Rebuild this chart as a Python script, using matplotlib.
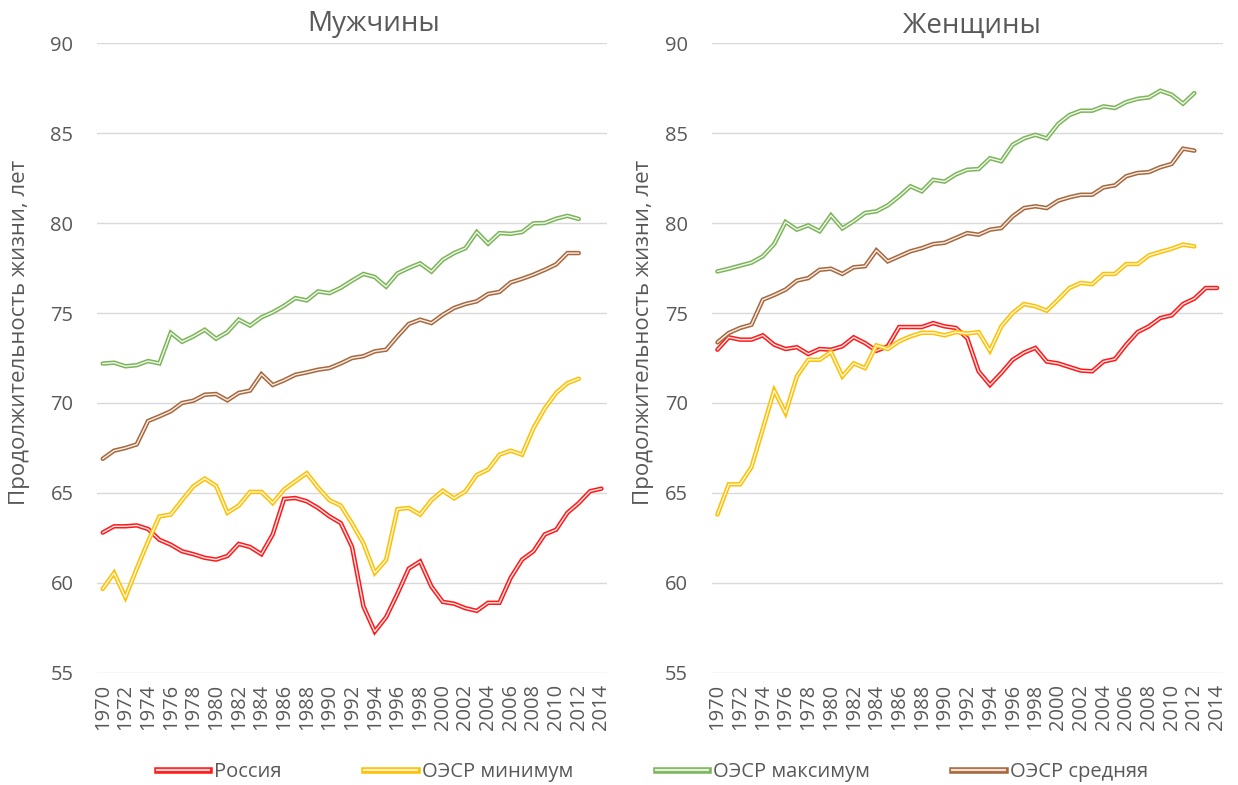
import matplotlib
matplotlib.use("Agg")
import matplotlib.pyplot as plt
from matplotlib.lines import Line2D
from matplotlib.legend_handler import HandlerTuple

plt.rcParams["font.family"] = ["Open Sans", "DejaVu Sans"]

# ---------------------------------------------------------------------------
# Data (life expectancy, years)
# ---------------------------------------------------------------------------
years_long = list(range(1970, 2015))   # Russia series run to 2014
years_short = list(range(1970, 2013))  # OECD series run to 2012
tick_years = list(range(1970, 2015, 2))

male_russia = [
    62.8, 63.15, 63.15, 63.2, 63.0, 62.4, 62.13, 61.76, 61.6, 61.4,
    61.3, 61.5, 62.17, 62.0, 61.6, 62.7, 64.67, 64.72, 64.54, 64.17,
    63.7, 63.33, 62.0, 58.7, 57.3, 58.1, 59.4, 60.8, 61.2, 59.8,
    58.95, 58.85, 58.6, 58.45, 58.9, 58.9, 60.3, 61.3, 61.76, 62.7,
    62.96, 63.9, 64.44, 65.1, 65.24,
]
male_min = [
    59.67, 60.56, 59.2, 60.8, 62.3, 63.7, 63.8, 64.6, 65.37, 65.8,
    65.4, 63.9, 64.3, 65.06, 65.06, 64.44, 65.2, 65.65, 66.1, 65.3,
    64.6, 64.3, 63.3, 62.2, 60.56, 61.28, 64.1, 64.17, 63.8, 64.6,
    65.13, 64.7, 65.1, 66.0, 66.3, 67.13, 67.35, 67.13, 68.6, 69.7,
    70.56, 71.1, 71.35,
]
male_max = [
    72.19, 72.24, 72.04, 72.1, 72.33, 72.2, 73.9, 73.4, 73.7, 74.07,
    73.57, 73.94, 74.63, 74.3, 74.76, 75.04, 75.4, 75.83, 75.7, 76.2,
    76.1, 76.4, 76.8, 77.17, 77.0, 76.46, 77.2, 77.5, 77.76, 77.3,
    77.96, 78.33, 78.6, 79.5, 78.85, 79.44, 79.4, 79.5, 79.98, 80.0,
    80.24, 80.4, 80.22,
]
male_avg = [
    66.9, 67.35, 67.5, 67.7, 69.0, 69.26, 69.54, 70.0, 70.13, 70.46,
    70.5, 70.15, 70.56, 70.69, 71.6, 71.0, 71.26, 71.57, 71.7, 71.85,
    71.94, 72.2, 72.5, 72.6, 72.87, 72.96, 73.7, 74.39, 74.63, 74.44,
    74.9, 75.28, 75.5, 75.65, 76.06, 76.17, 76.7, 76.9, 77.13, 77.4,
    77.7, 78.33, 78.33,
]

female_russia = [
    72.96, 73.65, 73.52, 73.52, 73.76, 73.24, 73.0, 73.1, 72.72, 73.0,
    72.96, 73.15, 73.65, 73.33, 72.9, 73.15, 74.22, 74.22, 74.22, 74.44,
    74.26, 74.17, 73.6, 71.76, 71.0, 71.67, 72.4, 72.8, 73.06, 72.3,
    72.2, 72.0, 71.8, 71.76, 72.3, 72.44, 73.24, 73.94, 74.26, 74.72,
    74.87, 75.5, 75.8, 76.39, 76.39,
]
female_min = [
    63.8, 65.48, 65.48, 66.44, 68.57, 70.7, 69.44, 71.48, 72.4, 72.4,
    72.83, 71.48, 72.2, 71.94, 73.2, 73.0, 73.43, 73.7, 73.9, 73.9,
    73.76, 73.94, 73.86, 73.94, 72.9, 74.26, 75.0, 75.5, 75.37, 75.13,
    75.74, 76.39, 76.67, 76.6, 77.17, 77.17, 77.72, 77.72, 78.2, 78.39,
    78.57, 78.8, 78.7,
]
female_max = [
    77.31, 77.46, 77.63, 77.8, 78.15, 78.83, 80.06, 79.63, 79.87, 79.54,
    80.43, 79.7, 80.1, 80.56, 80.65, 80.98, 81.48, 82.04, 81.76, 82.4,
    82.3, 82.7, 82.96, 83.0, 83.6, 83.43, 84.35, 84.7, 84.9, 84.7,
    85.5, 86.0, 86.24, 86.24, 86.48, 86.39, 86.72, 86.9, 86.98, 87.35,
    87.13, 86.63, 87.22,
]
female_avg = [
    73.37, 73.89, 74.17, 74.35, 75.74, 76.0, 76.3, 76.8, 76.94, 77.4,
    77.46, 77.17, 77.54, 77.6, 78.48, 77.87, 78.15, 78.43, 78.6, 78.83,
    78.9, 79.17, 79.44, 79.35, 79.63, 79.72, 80.37, 80.83, 80.93, 80.83,
    81.24, 81.43, 81.57, 81.57, 81.98, 82.09, 82.6, 82.78, 82.83, 83.1,
    83.28, 84.13, 84.02,
]

series_names = ["Россия", "ОЭСР минимум", "ОЭСР максимум", "ОЭСР средняя"]
panel_titles = ["Мужчины", "Женщины"]
y_label = "Продолжительность жизни, лет"

# ---------------------------------------------------------------------------
# Style
# ---------------------------------------------------------------------------
RED = "#FF1A1A"
YELLOW = "#FFC000"
GREEN = "#7DB55A"
BROWN = "#A8683C"
TEXT = "#595959"
GRID = "#D9D9D9"
COLORS = [RED, YELLOW, GREEN, BROWN]

OUTER_LW = 3.2   # "double" Excel line: thick colour ...
INNER_LW = 1.0   # ... with a thin white core


def _double_line(ax, x, y, color):
    ax.plot(x, y, color=color, lw=OUTER_LW, solid_joinstyle="miter",
            solid_capstyle="round")
    ax.plot(x, y, color="white", lw=INNER_LW, alpha=0.9,
            solid_joinstyle="miter", solid_capstyle="round")


def _style_axes(ax):
    ax.set_xlim(1969.5, 2014.5)
    ax.set_ylim(55, 90)
    ax.set_yticks(range(55, 91, 5))
    ax.set_xticks(tick_years)
    ax.set_xticklabels([str(y) for y in tick_years], rotation=90)
    ax.tick_params(axis="both", length=0, colors=TEXT, labelsize=14.5)
    ax.tick_params(axis="y", pad=17)
    ax.tick_params(axis="x", pad=8)
    for spine in ax.spines.values():
        spine.set_visible(False)
    ax.grid(axis="y", color=GRID, lw=1.0)
    ax.set_axisbelow(True)


fig = plt.figure(figsize=(12.38, 7.85), dpi=100)

panels = [
    ([0.0784, 0.1427, 0.4120, 0.8025],
     [male_russia, male_min, male_max, male_avg], -0.132),
    ([0.5749, 0.1427, 0.4128, 0.8025],
     [female_russia, female_min, female_max, female_avg], -0.113),
]

for (rect, data, ylab_x), title in zip(panels, panel_titles):
    ax = fig.add_axes(rect)
    _style_axes(ax)
    for values, color in zip(data, COLORS):
        xs = years_long if len(values) == len(years_long) else years_short
        _double_line(ax, xs, values, color)
    ax.set_ylabel(y_label, fontsize=16, color=TEXT)
    ax.yaxis.set_label_coords(ylab_x, 0.54)

fig.text(374 / 1238, 1 - 24 / 785, panel_titles[0], ha="center", va="center",
         fontsize=20, color=TEXT)
fig.text(972 / 1238, 1 - 26 / 785, panel_titles[1], ha="center", va="center",
         fontsize=20, color=TEXT)

# Legend
handles = [
    (Line2D([], [], color=c, lw=OUTER_LW + 1.5),
     Line2D([], [], color="white", lw=INNER_LW + 0.6, alpha=0.8))
    for c in COLORS
]
fig.legend(handles, series_names, loc="center", ncol=4,
           bbox_to_anchor=(0.527, 1 - 772 / 785), frameon=False,
           fontsize=14.5, labelcolor=TEXT, handlelength=2.6,
           handletextpad=0.25, columnspacing=4.1,
           handler_map={tuple: HandlerTuple(ndivide=1)})

fig.savefig("out.png", dpi=100, facecolor="white")
